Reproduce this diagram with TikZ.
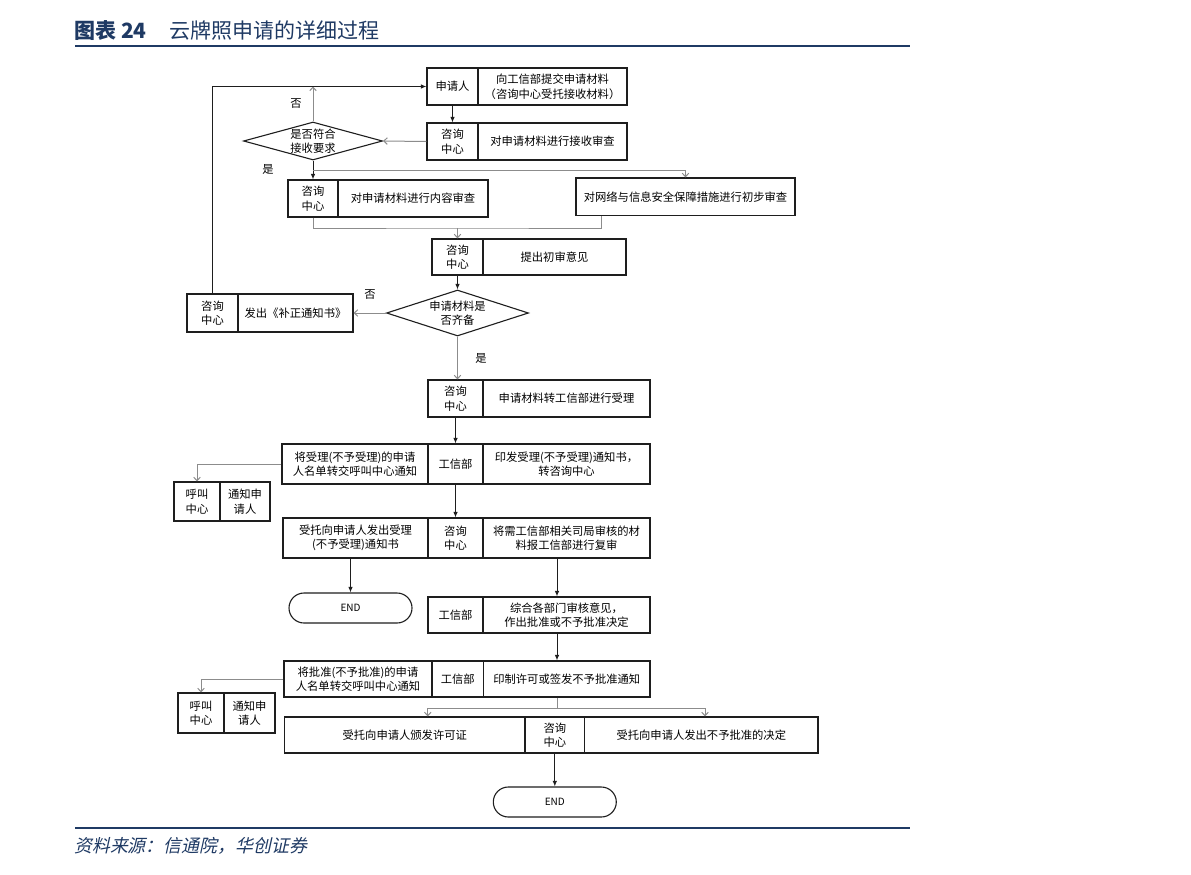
\documentclass[tikz,border=0pt]{standalone}
\usepackage{fontspec}
\setmainfont{Noto Sans CJK SC}
\newfontfamily\srcfont[FakeSlant=0.22]{Noto Sans CJK SC}
\usetikzlibrary{arrows.meta,shapes.geometric,calc}
\definecolor{navy}{HTML}{1F3A64}
\definecolor{lgray}{HTML}{8C8C8C}
\definecolor{dk}{HTML}{1E1E1E}
\newcommand{\dfont}{\fontsize{11.3}{14.5}\selectfont}
\begin{document}
\begin{tikzpicture}[x=1pt,y=-1pt,
  cell/.style={draw=dk, line width=1.1pt, inner sep=0pt, align=center, font=\dfont},
  dia/.style={diamond, draw=dk, line width=1.1pt, inner sep=0pt},
  endbox/.style={draw=dk, line width=1.1pt, rounded corners=15pt, minimum width=123pt, minimum height=30pt, font=\fontsize{10}{12}\selectfont},
  lbl/.style={font=\dfont, inner sep=0pt},
  lk/.style={draw=dk, line width=1pt, -{Latex[length=5.5pt,width=4.5pt]}},
  lg/.style={draw=lgray, line width=1pt, -{Straight Barb[length=3.5pt,width=6.5pt]}},
  gl/.style={draw=lgray, line width=1pt}
]
\fill[white] (0,0) rectangle (1191,875);
\useasboundingbox (0,0) rectangle (1191,875);

% header and footer
\node[anchor=west, text=navy, inner sep=0pt, font=\fontsize{21}{24}\selectfont] (title) at (74,31) {\textbf{图表 24}\hspace{23pt}云牌照申请的详细过程};
\coordinate (hl) at (75,46);
\coordinate (hr) at (910,46);
\draw[navy, line width=2.6pt] (hl) -- (hr);
\coordinate (fl) at (75,828);
\coordinate (fr) at (910,828);
\draw[navy, line width=2.6pt] (fl) -- (fr);
\node[anchor=west, text=navy, inner sep=0pt, font=\fontsize{17.9}{20}\srcfont] (src) at (74,846) {资料来源：信通院，华创证券};

% A
\node[cell, minimum width=51pt, minimum height=37pt] (a1) at (452.5,86.5) {申请人};
\node[cell, minimum width=149pt, minimum height=37pt] (a2) at (552.5,86.5) {向工信部提交申请材料\\（咨询中心受托接收材料）};
% B
\node[cell, minimum width=51pt, minimum height=37pt] (b1) at (452.5,141.5) {咨询\\中心};
\node[cell, minimum width=149pt, minimum height=37pt] (b2) at (552.5,141.5) {对申请材料进行接收审查};
% D1
\node[dia, minimum width=139pt, minimum height=38pt] (d1) at (313,141) {};
\node[lbl, align=center] (d1t) at (d1.center) {是否符合\\接收要求};
% C
\node[cell, minimum width=50pt, minimum height=37pt] (c1) at (313,198.5) {咨询\\中心};
\node[cell, minimum width=150pt, minimum height=37pt] (c2) at (413,198.5) {对申请材料进行内容审查};
% E
\node[cell, minimum width=219pt, minimum height=37.5pt] (e) at (685.5,196.75) {对网络与信息安全保障措施进行初步审查};
% F
\node[cell, minimum width=51pt, minimum height=36pt] (f1) at (457.5,257) {咨询\\中心};
\node[cell, minimum width=143pt, minimum height=36pt] (f2) at (554.5,257) {提出初审意见};
% D2
\node[dia, minimum width=142pt, minimum height=46pt] (d2) at (457.5,313) {};
\node[lbl, align=center] (d2t) at (d2.center) {申请材料是\\否齐备};
% G
\node[cell, minimum width=51pt, minimum height=38pt] (g1) at (212.5,313) {咨询\\中心};
\node[cell, minimum width=115pt, minimum height=38pt] (g2) at (295.5,313) {发出《补正通知书》};
% H
\node[cell, minimum width=55pt, minimum height=37pt] (h1) at (455.5,398.5) {咨询\\中心};
\node[cell, minimum width=167pt, minimum height=37pt] (h2) at (566.5,398.5) {申请材料转工信部进行受理};
% I
\node[cell, minimum width=146pt, minimum height=40pt] (i1) at (355,464) {将受理(不予受理)的申请\\人名单转交呼叫中心通知};
\node[cell, minimum width=55pt, minimum height=40pt] (i2) at (455.5,464) {工信部};
\node[cell, minimum width=167pt, minimum height=40pt] (i3) at (566.5,464) {印发受理(不予受理)通知书，\\转咨询中心};
% J
\node[cell, minimum width=46pt, minimum height=39pt] (j1) at (197,501.5) {呼叫\\中心};
\node[cell, minimum width=50pt, minimum height=39pt] (j2) at (245,501.5) {通知申\\请人};
% K
\node[cell, minimum width=145pt, minimum height=40pt] (k1) at (355.5,538) {受托向申请人发出受理\\(不予受理)通知书};
\node[cell, minimum width=55pt, minimum height=40pt] (k2) at (455.5,538) {咨询\\中心};
\node[cell, minimum width=167pt, minimum height=40pt] (k3) at (566.5,538) {将需工信部相关司局审核的材\\料报工信部进行复审};
% END1
\node[endbox] (end1) at (350.5,608) {END};
% L
\node[cell, minimum width=55pt, minimum height=36pt] (l1) at (455.5,615) {工信部};
\node[cell, minimum width=167pt, minimum height=36pt] (l2) at (566.5,615) {综合各部门审核意见，\\作出批准或不予批准决定};
% N
\node[cell, minimum width=148pt, minimum height=36pt] (n1) at (358,679) {将批准(不予批准)的申请\\人名单转交呼叫中心通知};
\node[cell, minimum width=51.5pt, minimum height=36pt] (n2) at (457.75,679) {工信部};
\node[cell, minimum width=166.5pt, minimum height=36pt] (n3) at (566.75,679) {印制许可或签发不予批准通知};
% P
\node[cell, minimum width=46pt, minimum height=40pt] (p1) at (201,713) {呼叫\\中心};
\node[cell, minimum width=51pt, minimum height=40pt] (p2) at (249.5,713) {通知申\\请人};
% Q
\node[cell, minimum width=240.5pt, minimum height=36pt] (q1) at (404.75,735) {受托向申请人颁发许可证};
\node[cell, minimum width=59.6pt, minimum height=36pt] (q2) at (554.8,735) {咨询\\中心};
\node[cell, minimum width=233.4pt, minimum height=36pt] (q3) at (701.3,735) {受托向申请人发出不予批准的决定};
% END2
\node[endbox] (end2) at (554.8,802) {END};

% labels
\node[lbl] (no1) at (296,104) {否};
\node[lbl] (yes1) at (268,169) {是};
\node[lbl] (no2) at (370,295) {否};
\node[lbl] (yes2) at (481,358) {是};

% connectors
\draw[lk] (a1.south) -- (b1.north);
\draw[lg] (b1.west) -- (d1.east);
\draw[lg] (d1.north) -- (d1.north |- a1.west);
\draw[lk] (g1.north) |- (a1.west);
\draw[lk] (d1.south) -- (c1.north);
\coordinate (ej) at ($(d1.south)!0.5!(c1.north)$);
\draw[lg] (ej) -| (e.north);
\coordinate (mj) at (457.5,228);
\coordinate (eb) at ($(e.south west)+(26,0)$);
\draw[gl] (c1.south) |- (mj) -| (eb);
\draw[lg] (mj) -- (f1.north);
\draw[lk] (f1.south) -- (d2.north);
\draw[lg] (d2.west) -- (g2.east);
\draw[lg] (d2.south) -- (d2.south |- h1.north);
\draw[lk] (h1.south) -- (i2.north);
\draw[lg] (i1.west) -| (j1.north);
\draw[lk] (i2.south) -- (k2.north);
\draw[lk] (end1.north |- k1.south) -- (end1.north);
\draw[lk] ([xshift=-9.5pt]k3.south) -- ([xshift=-9.5pt]l2.north);
\draw[lk] ([xshift=-9.5pt]l2.south) -- ([xshift=-9.5pt]l2.south |- n3.north);
\draw[lg] (n1.west) -| (p1.north);
\coordinate (nb) at ([xshift=-9.5pt]n3.south);
\coordinate (qj) at ($(nb)+(0,11)$);
\draw[gl] (nb) -- (qj);
\draw[lg] (qj) -| ([xshift=23pt]q1.north);
\draw[lg] (qj) -| ([xshift=3.7pt]q3.north);
\draw[lk] (q2.south) -- (end2.north);
\end{tikzpicture}
\end{document}
